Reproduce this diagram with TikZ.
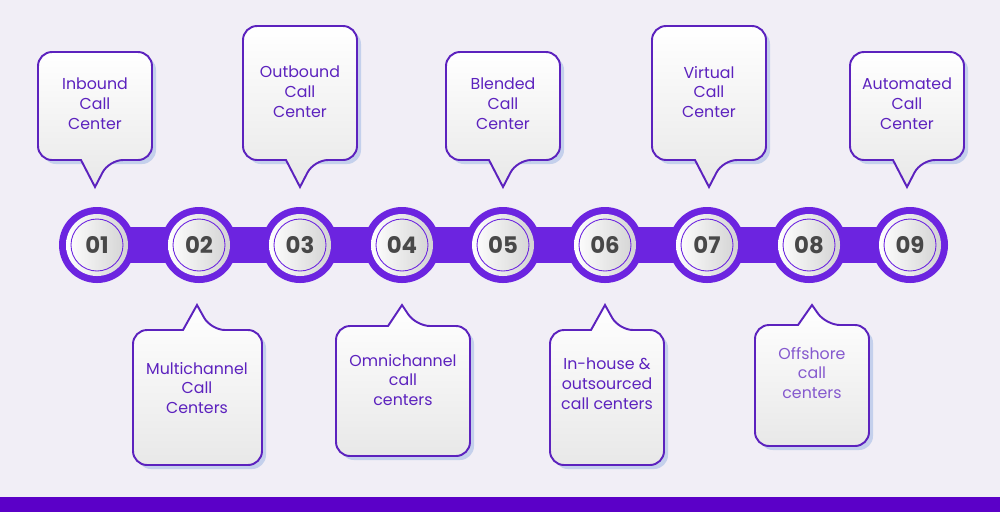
\documentclass[tikz,border=0pt]{standalone}
\usepackage{fontspec}
\setmainfont{Poppins}
\usetikzlibrary{calc, positioning}
\definecolor{PageBg}{RGB}{241, 238, 246}
\definecolor{ChainPurple}{RGB}{108, 36, 224}
\definecolor{BarPurple}{RGB}{91, 0, 200}
\definecolor{LabelPurple}{RGB}{92, 34, 190}
\definecolor{NumGray}{RGB}{72, 72, 72}
\definecolor{ShadowBlue}{RGB}{196, 208, 236}

\tikzset{
    callout/.style={draw=LabelPurple, line width=1.1pt, top color=white, bottom color=gray!18},
    callshadow/.style={fill=ShadowBlue},
    calltext/.style={font=\fontsize{9}{11.2}\selectfont, text=LabelPurple, align=center, anchor=north},
    numtext/.style={font=\fontsize{13}{13}\selectfont\bfseries, text=NumGray}
}

% callout: x1, far y, x2, base y, tip x, tip y
\newcommand{\calloutbox}[6]{%
    \path[callshadow, rounded corners=8pt] (#1+4,#2+4) rectangle (#3+4,#4+4);
    \draw[callout, rounded corners=8pt] (#5-14,#4) -- (#1,#4) -- (#1,#2) -- (#3,#2) -- (#3,#4) -- (#5+14,#4) [sharp corners] -- (#5,#6) -- cycle;
}

\begin{document}
\begin{tikzpicture}[x=0.02cm, y=-0.02cm]
    \fill[PageBg] (0,0) rectangle (1000,512);
    \useasboundingbox (0,0) rectangle (1000,512);
    \fill[BarPurple] (0,497) rectangle (1000,512);

    % Kette
    \fill[ChainPurple] (97,227) rectangle (910,263);
    \foreach \i/\x in {1/97, 2/199, 3/300, 4/402, 5/503, 6/605, 7/707, 8/809, 9/910} {
        \fill[ChainPurple] (\x,245) circle[radius=38];
        \shade[left color=white, right color=gray!35] (\x,245) circle[radius=31];
        \draw[ChainPurple, line width=0.5pt] (\x,245) circle[radius=26];
        \node[numtext] (n\i) at (\x,245) {0\i};
    }

    % Sprechblasen oben
    \calloutbox{38}{52}{152}{160}{95}{187}
    \node[calltext] (t1) at (95,72) {Inbound\\Call\\Center};
    \calloutbox{243}{26}{357}{160}{300}{187}
    \node[calltext] (t3) at (300,60) {Outbound\\Call\\Center};
    \calloutbox{446}{52}{560}{160}{503}{187}
    \node[calltext] (t5) at (503,72) {Blended\\Call\\Center};
    \calloutbox{652}{26}{766}{160}{709}{187}
    \node[calltext] (t7) at (709,60) {Virtual\\Call\\Center};
    \calloutbox{850}{52}{964}{160}{907}{187}
    \node[calltext] (t9) at (907,72) {Automated\\Call\\Center};

    % Sprechblasen unten
    \calloutbox{133}{465}{262}{330}{197}{305}
    \node[calltext] (t2) at (197,356) {Multichannel\\Call\\Centers};
    \calloutbox{336}{456}{470}{326}{402}{305}
    \node[calltext] (t4) at (403,348) {Omnichannel\\call\\centers};
    \calloutbox{550}{465}{664}{330}{605}{305}
    \node[calltext] (t6) at (607,352) {In-house \&\\outsourced\\call centers};
    \calloutbox{755}{446}{869}{325}{812}{305}
    \node[calltext, text=LabelPurple!75] (t8) at (812,341) {Offshore\\call\\centers};
\end{tikzpicture}
\end{document}
